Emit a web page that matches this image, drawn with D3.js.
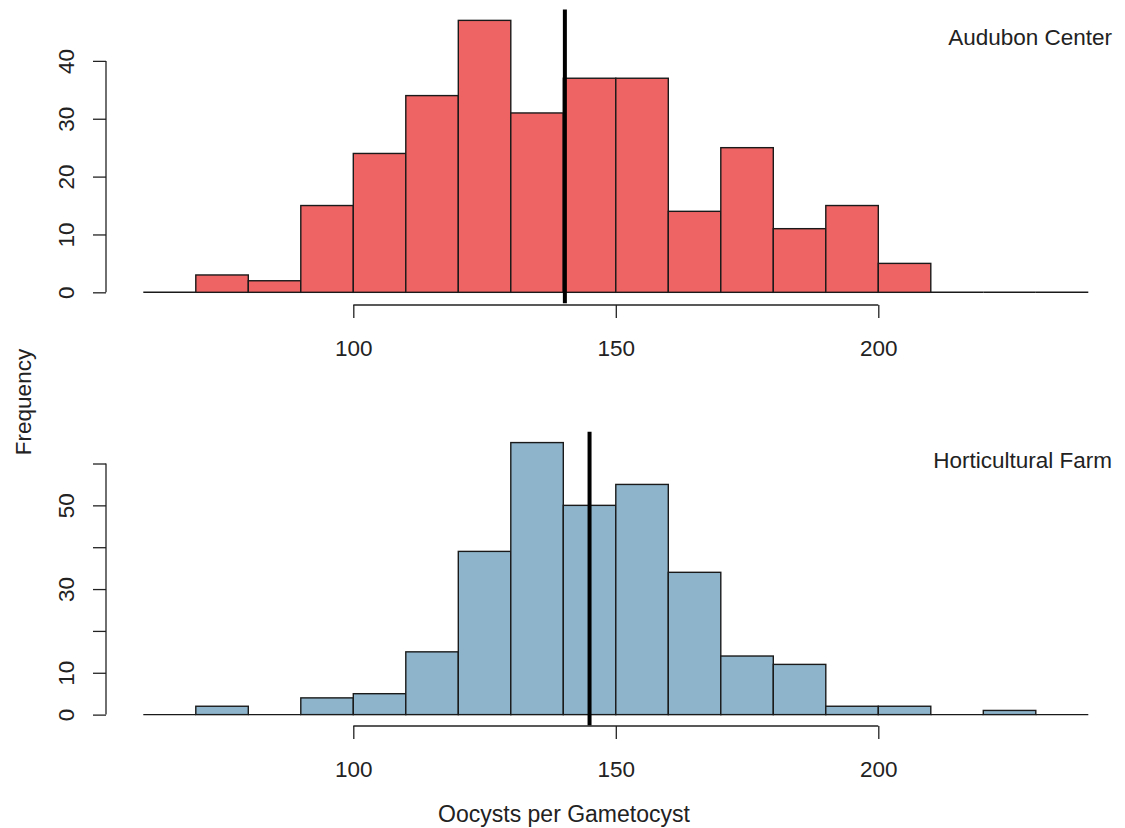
<!DOCTYPE html>
<html>
<head>
<meta charset="utf-8">
<script src="https://cdn.jsdelivr.net/npm/d3@7"></script>
<style>
  html, body { margin: 0; padding: 0; background: #fff; }
  svg { display: block; font-family: "Liberation Sans", Arial, sans-serif; }
</style>
</head>
<body>
<svg id="chart" width="1125" height="828"></svg>
<script>
// Histogram bins (width 10) from 60 to 240
const binEdges = [60, 70, 80, 90, 100, 110, 120, 130, 140, 150, 160, 170, 180, 190, 200, 210, 220, 230, 240];

// Counts per bin for each site
const audubonCounts = [0, 3, 2, 15, 24, 34, 47, 31, 37, 37, 14, 25, 11, 15, 5, 0, 0, 0];
const horticulturalCounts = [0, 2, 0, 4, 5, 15, 39, 65, 50, 55, 34, 14, 12, 2, 2, 0, 1, 0];

// Mean oocysts per gametocyst for each site
const audubonMean = [140.3];
const horticulturalMean = [145.0];

// Axis ticks and labels
const xTicks = [100, 150, 200];
const audubonYTicks = [0, 10, 20, 30, 40];
const audubonYLabels = ["0", "10", "20", "30", "40"];
const horticulturalYTicks = [0, 10, 20, 30, 40, 50, 60];
const horticulturalYLabels = ["0", "10", "", "30", "", "50", ""];

const panelNames = ["Audubon Center", "Horticultural Farm"];
const xTitle = "Oocysts per Gametocyst";
const yTitle = "Frequency";

const svg = d3.select("#chart");
const textColor = "#222";
const fontSize = 22.5;

const x = d3.scaleLinear().domain([60, 240]).range([143.3, 1088.3]);

const panels = [
  {
    name: panelNames[0], counts: audubonCounts, mean: audubonMean,
    yTicks: audubonYTicks, yLabels: audubonYLabels,
    plotTop: 9.5, plotBottom: 303.2, fill: "#EE6363",
    xAxisY: 305, titleY: 45
  },
  {
    name: panelNames[1], counts: horticulturalCounts, mean: horticulturalMean,
    yTicks: horticulturalYTicks, yLabels: horticulturalYLabels,
    plotTop: 431.7, plotBottom: 725.5, fill: "#8DB4CB",
    xAxisY: 726, titleY: 468
  }
];

panels.forEach(p => {
  const maxCount = d3.max(p.counts);
  const ext = maxCount * 0.04;
  const y = d3.scaleLinear().domain([-ext, maxCount + ext]).range([p.plotBottom, p.plotTop]);
  const g = svg.append("g");

  const bins = p.counts.map((c, i) => ({ x0: binEdges[i], x1: binEdges[i + 1], count: c }));

  // empty bins collapse to a flat outline along zero
  g.selectAll("line.empty")
    .data(bins.filter(d => d.count === 0))
    .join("line")
    .attr("class", "empty")
    .attr("x1", d => x(d.x0)).attr("x2", d => x(d.x1))
    .attr("y1", y(0)).attr("y2", y(0))
    .attr("stroke", "#1a1a1a")
    .attr("stroke-width", 1.4);

  // bars
  g.selectAll("rect.bar")
    .data(bins.filter(d => d.count > 0))
    .join("rect")
    .attr("class", "bar")
    .attr("x", d => x(d.x0))
    .attr("width", d => x(d.x1) - x(d.x0))
    .attr("y", d => y(d.count))
    .attr("height", d => y(0) - y(d.count))
    .attr("fill", p.fill)
    .attr("stroke", "#1a1a1a")
    .attr("stroke-width", 1.4);

  // mean line
  g.selectAll("line.mean")
    .data(p.mean)
    .join("line")
    .attr("class", "mean")
    .attr("x1", d => x(d)).attr("x2", d => x(d))
    .attr("y1", p.plotTop).attr("y2", p.plotBottom)
    .attr("stroke", "#000")
    .attr("stroke-width", 4);

  // y axis
  const yAxis = d3.axisLeft(y)
    .tickValues(p.yTicks)
    .tickSize(13)
    .tickSizeOuter(0)
    .tickFormat((d, i) => p.yLabels[i]);
  const ya = g.append("g").attr("transform", "translate(106,0)").call(yAxis);
  ya.select(".domain").attr("d", `M0,${y(p.yTicks[0])}V${y(p.yTicks[p.yTicks.length - 1])}`)
    .attr("stroke", "#222").attr("stroke-width", 1.3);
  ya.selectAll(".tick line").attr("stroke", "#222").attr("stroke-width", 1.3);
  ya.selectAll(".tick text")
    .attr("x", null).attr("dy", null)
    .attr("transform", "translate(-32,0) rotate(-90)")
    .attr("text-anchor", "middle")
    .attr("fill", textColor)
    .style("font-size", fontSize + "px")
    .style("font-family", "'Liberation Sans', Arial, sans-serif");

  // x axis
  const xAxis = d3.axisBottom(x)
    .tickValues(xTicks)
    .tickSize(13)
    .tickSizeOuter(0)
    .tickFormat(d3.format("d"));
  const xa = g.append("g").attr("transform", `translate(0,${p.xAxisY})`).call(xAxis);
  xa.select(".domain").attr("d", `M${x(xTicks[0])},0H${x(xTicks[xTicks.length - 1])}`)
    .attr("stroke", "#222").attr("stroke-width", 1.3);
  xa.selectAll(".tick line").attr("stroke", "#222").attr("stroke-width", 1.3);
  xa.selectAll(".tick text")
    .attr("y", 51).attr("dy", null)
    .attr("fill", textColor)
    .style("font-size", fontSize + "px")
    .style("font-family", "'Liberation Sans', Arial, sans-serif");

  // site label
  g.append("text")
    .attr("x", 1112).attr("y", p.titleY)
    .attr("text-anchor", "end")
    .attr("fill", textColor)
    .style("font-size", fontSize + "px")
    .text(p.name);
});

// shared axis titles
svg.append("text")
  .attr("x", 564).attr("y", 822)
  .attr("text-anchor", "middle")
  .attr("fill", textColor)
  .style("font-size", "23px")
  .text(xTitle);

svg.append("text")
  .attr("transform", "translate(31,402) rotate(-90)")
  .attr("text-anchor", "middle")
  .attr("fill", textColor)
  .style("font-size", fontSize + "px")
  .text(yTitle);
</script>
</body>
</html>
